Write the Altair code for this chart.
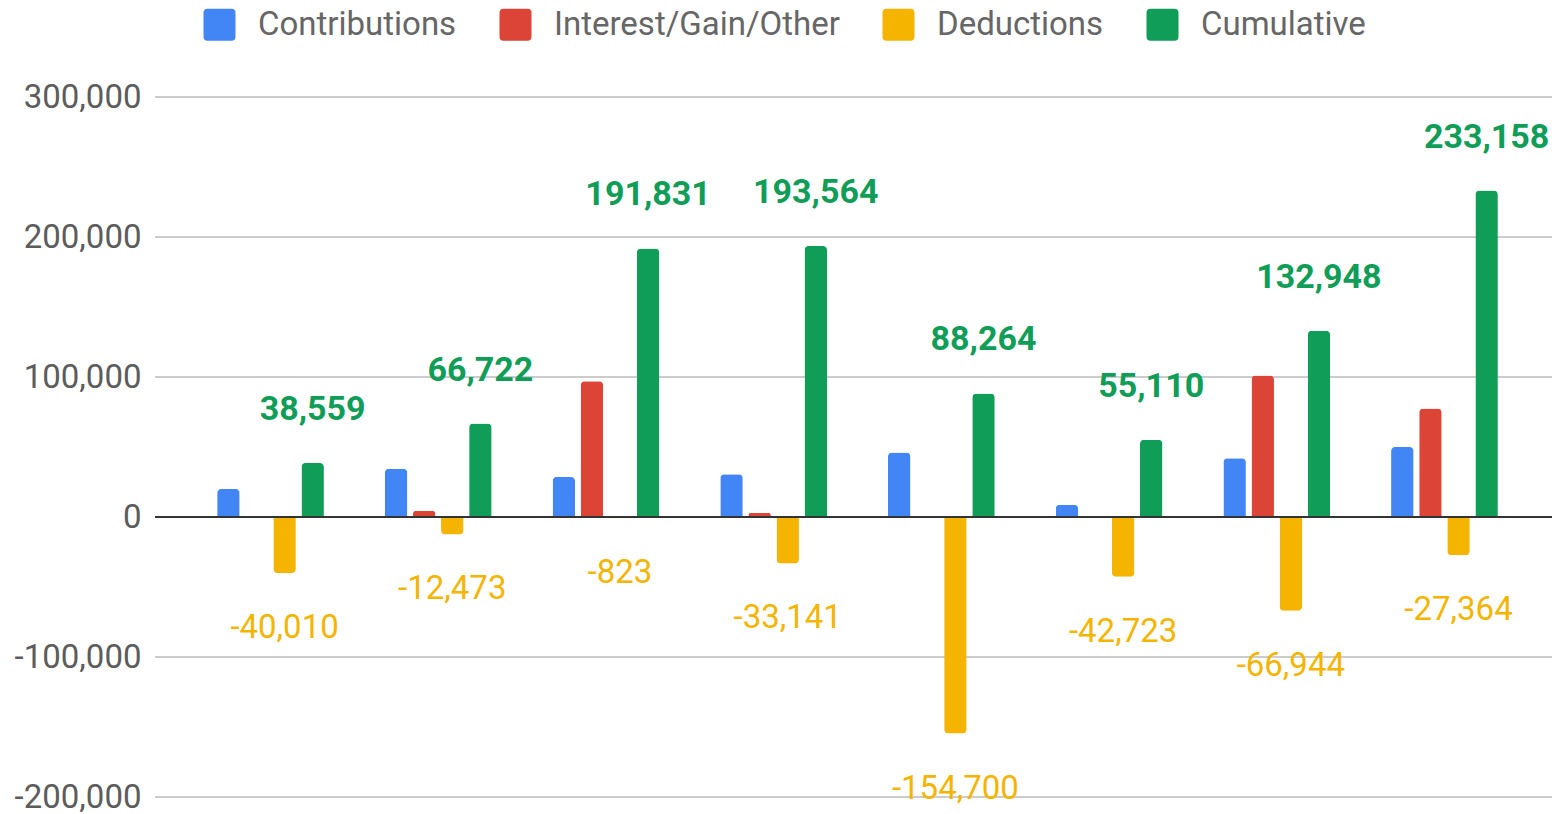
import altair as alt
import pandas as pd

groups = ["1", "2", "3", "4", "5", "6", "7", "8"]
series = ["Contributions", "Interest/Gain/Other", "Deductions", "Cumulative"]
colors = ["#4285f4", "#db4437", "#f4b400", "#0f9d58"]

contributions = [20000, 34500, 28500, 30500, 46000, 8800, 42000, 50000]
interest = [600, 4500, 97000, 2800, 700, 0, 101000, 77500]
deductions = [-40010, -12473, -823, -33141, -154700, -42723, -66944, -27364]
cumulative = [38559, 66722, 191831, 193564, 88264, 55110, 132948, 233158]
y_ticks = [-200000, -100000, 100000, 200000, 300000]

rows = []
for vals, s in zip([contributions, interest, deductions, cumulative], series):
    for g, v in zip(groups, vals):
        rows.append({"group": g, "series": s, "value": v})
df = pd.DataFrame(rows)

FONT = "Roboto"
FMT = "replace(format(datum.value, ',d'), '\u2212', '-')"

x_enc = alt.X("group:N", sort=groups, axis=None,
              scale=alt.Scale(paddingInner=0.33, paddingOuter=0.33, range=[4, 1401]))
xo_enc = alt.XOffset("series:N", sort=series,
                     scale=alt.Scale(domain=series, paddingInner=0.2, paddingOuter=0.1))
y_scale = alt.Scale(domain=[-200000, 300000], nice=False, zero=False)
y_enc = alt.Y("value:Q", scale=y_scale,
              axis=alt.Axis(values=[-200000, -100000, 0, 100000, 200000, 300000],
                            labelExpr=FMT, title=None, domain=False, ticks=False, grid=False,
                            labelFontSize=33, labelFont=FONT, labelColor="#5c5c5c",
                            labelPadding=14))

rounded = "M-0.75,-1 H0.75 Q1,-1 1,-0.75 V0.75 Q1,1 0.75,1 H-0.75 Q-1,1 -1,0.75 V-0.75 Q-1,-1 -0.75,-1 Z"

color_enc = alt.Color("series:N", sort=series,
                      scale=alt.Scale(domain=series, range=colors),
                      legend=alt.Legend(title=None, orient="none", direction="horizontal",
                                        legendX=48, legendY=-89, padding=0,
                                        labelFontSize=33, labelFont=FONT, labelColor="#666666",
                                        labelOffset=22, columnPadding=42, labelLimit=0,
                                        symbolType=rounded, symbolSize=1024,
                                        symbolStrokeWidth=0, symbolOpacity=1))

grid = alt.Chart(pd.DataFrame({"value": y_ticks})).mark_rule(
    color="#cccccc", strokeWidth=2
).encode(y=alt.Y("value:Q", scale=y_scale))

base = alt.Chart(df).transform_calculate(label=FMT)

pos_bars = base.transform_filter("datum.value >= 0").mark_bar(
    cornerRadiusTopLeft=4, cornerRadiusTopRight=4
).encode(x=x_enc, xOffset=xo_enc, y=y_enc, color=color_enc)

neg_bars = base.transform_filter("datum.value < 0").mark_bar(
    cornerRadiusBottomLeft=4, cornerRadiusBottomRight=4
).encode(x=x_enc, xOffset=xo_enc, y=y_enc, color=color_enc)

zero_rule = alt.Chart(pd.DataFrame({"value": [0]})).mark_rule(
    color="#333333", strokeWidth=2
).encode(y=alt.Y("value:Q", scale=y_scale))

cum_labels = base.transform_filter("datum.series == 'Cumulative'").mark_text(
    font=FONT, fontSize=34, fontWeight="bold", color="#0f9d58",
    baseline="middle", align="center", dy=-53
).encode(x=x_enc, xOffset=xo_enc, y=y_enc, text="label:N")

ded_labels = base.transform_filter("datum.series == 'Deductions'").mark_text(
    font=FONT, fontSize=33, color="#f4b400",
    baseline="middle", align="center", dy=55
).encode(x=x_enc, xOffset=xo_enc, y=y_enc, text="label:N")

chart = alt.layer(grid, pos_bars, neg_bars, zero_rule, cum_labels, ded_labels).properties(
    width=1397, height=700,
    background="white",
    autosize=alt.AutoSizeParams(type="none"),
    padding={"left": 155, "top": 97, "right": 0, "bottom": 17},
).configure_view(strokeWidth=0, stroke="transparent")

chart.save("out.html", embed_options={"renderer": "svg", "actions": False})
